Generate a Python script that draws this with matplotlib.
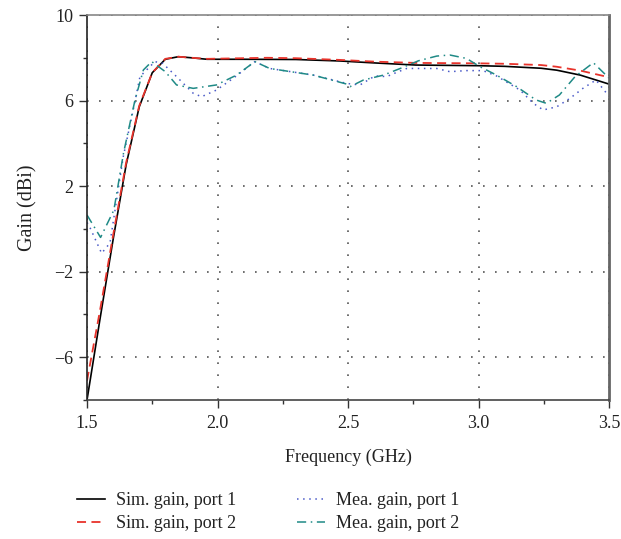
import matplotlib
matplotlib.use("Agg")
import matplotlib.pyplot as plt
from matplotlib.ticker import MultipleLocator

plt.rcParams['font.family'] = ['Liberation Serif', 'DejaVu Serif']

# Simulated gain, port 1
sim1_f = [1.50, 1.55, 1.60, 1.65, 1.70, 1.75, 1.80, 1.85, 1.90, 1.96, 2.10, 2.30, 2.47, 2.60, 2.76, 3.00, 3.10, 3.24, 3.30, 3.39, 3.50]
sim1_g = [-8.0, -4.2, -0.5, 3.0, 5.7, 7.3, 7.93, 8.05, 8.0, 7.93, 7.93, 7.92, 7.85, 7.76, 7.66, 7.63, 7.60, 7.51, 7.42, 7.19, 6.77]

# Simulated gain, port 2
sim2_f = [1.50, 1.55, 1.60, 1.65, 1.70, 1.75, 1.80, 1.85, 1.90, 1.96, 2.10, 2.19, 2.30, 2.47, 2.60, 2.76, 3.00, 3.10, 3.24, 3.30, 3.39, 3.50]
sim2_g = [-7.1, -3.8, -0.3, 3.1, 5.75, 7.3, 7.95, 8.05, 8.0, 7.95, 7.98, 8.0, 7.98, 7.9, 7.82, 7.76, 7.74, 7.72, 7.66, 7.58, 7.40, 7.09]

# Measured gain, port 1
mea1_f = [1.50, 1.51, 1.556, 1.588, 1.639, 1.677, 1.703, 1.76, 1.79, 1.843, 1.907, 1.939, 1.996, 2.06, 2.143, 2.20, 2.367, 2.495, 2.546, 2.603, 2.648, 2.693, 2.725, 2.84, 2.89, 2.954, 3.017, 3.069, 3.159, 3.21, 3.248, 3.30, 3.35, 3.40, 3.45, 3.50]
mea1_g = [0.3, 0.1, -1.14, -0.66, 3.38, 5.56, 7.12, 7.82, 7.74, 7.12, 6.34, 6.18, 6.49, 7.04, 7.82, 7.5, 7.19, 6.8, 6.73, 7.15, 7.12, 7.35, 7.5, 7.5, 7.35, 7.4, 7.4, 7.15, 6.49, 5.87, 5.56, 5.71, 6.1, 6.57, 6.96, 6.2]

# Measured gain, port 2
mea2_f = [1.50, 1.552, 1.603, 1.64, 1.684, 1.716, 1.748, 1.80, 1.843, 1.907, 1.996, 2.073, 2.143, 2.20, 2.367, 2.495, 2.508, 2.559, 2.636, 2.70, 2.77, 2.84, 2.89, 2.954, 3.006, 3.069, 3.146, 3.22, 3.26, 3.31, 3.37, 3.44, 3.50]
mea2_g = [0.65, -0.4, 0.88, 3.55, 6.03, 7.43, 7.82, 7.35, 6.73, 6.57, 6.73, 7.19, 7.82, 7.5, 7.19, 6.77, 6.65, 6.96, 7.19, 7.5, 7.86, 8.08, 8.13, 7.97, 7.58, 7.19, 6.65, 6.03, 5.87, 6.26, 7.12, 7.77, 7.05]

x_ticks = [1.5, 2.0, 2.5, 3.0, 3.5]
y_ticks = [-6, -2, 2, 6, 10]

FS = 13

fig = plt.figure(figsize=(6.21, 5.39), dpi=100)
ax = fig.add_axes([87/621, 1-400/539, (609-87)/621, (400-15)/539])

ax.plot(sim1_f, sim1_g, color='black', lw=1.2, ls='-', label='Sim. gain, port 1')
ax.plot(sim2_f, sim2_g, color='#e8332b', lw=1.3, ls=(0, (5, 3)), label='Sim. gain, port 2')
ax.plot(mea1_f, mea1_g, color='#4a5ac8', lw=1.1, ls=(0, (1, 3)), label='Mea. gain, port 1')
ax.plot(mea2_f, mea2_g, color='#1f8a86', lw=1.1, ls=(0, (6, 3, 1, 3)), label='Mea. gain, port 2')

ax.set_xlim(1.5, 3.5)
ax.set_ylim(-8, 10)
ax.set_xticks(x_ticks)
ax.set_xticklabels([f"{v:.1f}" for v in x_ticks])
ax.set_yticks(y_ticks)
ax.set_yticklabels([str(v).replace('-', '\u2212') for v in y_ticks])
ax.xaxis.set_minor_locator(MultipleLocator(0.25))
ax.yaxis.set_minor_locator(MultipleLocator(2))
ax.tick_params(axis='both', which='major', direction='out', length=6, width=1, labelsize=FS,
               colors='#333333', labelcolor='#222222')
ax.tick_params(axis='x', which='major', pad=5)
ax.tick_params(axis='y', which='major', pad=4)
ax.tick_params(axis='both', which='minor', direction='out', length=3, width=1, colors='#333333')
ax.tick_params(top=False, right=False)

ax.grid(True, which='major', ls=(0, (1, 6.2)), color='#555555', lw=1.2)

ax.spines['left'].set_color('#222222')
ax.spines['left'].set_linewidth(1.2)
ax.spines['bottom'].set_color('#444444')
ax.spines['bottom'].set_linewidth(1.2)
ax.spines['top'].set_color('#888888')
ax.spines['top'].set_linewidth(1.2)
ax.spines['right'].set_color('#666666')
ax.spines['right'].set_linewidth(2.0)

ax.set_xlabel('Frequency (GHz)', fontsize=FS, color='#222222', labelpad=11.5)
ax.set_ylabel('Gain (dBi)', fontsize=14.5, color='#222222', labelpad=12)

leg = fig.legend(loc='upper left', bbox_to_anchor=(77/621, 1-492/539), ncol=2, frameon=False,
                 fontsize=FS, handlelength=1.55, columnspacing=3.4, labelspacing=0.33,
                 handletextpad=0.6, borderaxespad=0, borderpad=0)
for t in leg.get_texts():
    t.set_color('#222222')

fig.savefig('out.png', dpi=100)
